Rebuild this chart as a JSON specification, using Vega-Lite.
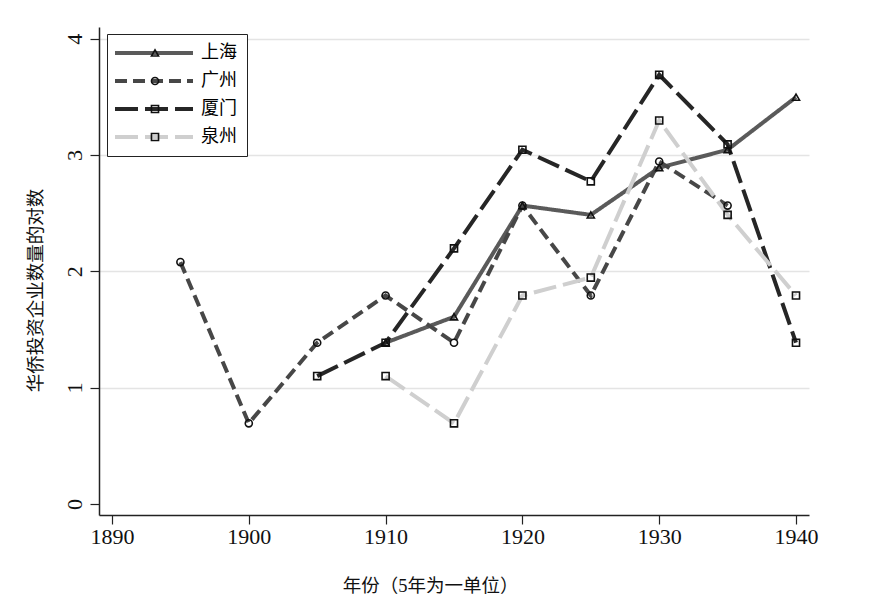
{
  "$schema": "https://vega.github.io/schema/vega-lite/v6.json",
  "width": 710,
  "height": 488,
  "autosize": {"type": "none"},
  "padding": {"left": 99, "top": 27, "right": 71, "bottom": 87},
  "background": "white",
  "config": {
    "view": {"stroke": null},
    "font": "Liberation Serif, Noto Sans CJK SC",
    "axis": {
      "labelFont": "Liberation Serif, Noto Sans CJK SC",
      "titleFont": "Liberation Serif, Noto Sans CJK SC",
      "titleFontWeight": "normal",
      "labelColor": "#111",
      "titleColor": "#111",
      "domainColor": "#222",
      "tickColor": "#222",
      "domainWidth": 1.5,
      "tickWidth": 1.2
    },
    "legend": {
      "labelFont": "Liberation Serif, Noto Sans CJK SC"
    }
  },
  "data": {
    "values": [
      {"year": 1910, "value": 1.386, "city": "上海"},
      {"year": 1915, "value": 1.609, "city": "上海"},
      {"year": 1920, "value": 2.565, "city": "上海"},
      {"year": 1925, "value": 2.485, "city": "上海"},
      {"year": 1930, "value": 2.890, "city": "上海"},
      {"year": 1935, "value": 3.045, "city": "上海"},
      {"year": 1940, "value": 3.497, "city": "上海"},
      {"year": 1895, "value": 2.079, "city": "广州"},
      {"year": 1900, "value": 0.693, "city": "广州"},
      {"year": 1905, "value": 1.386, "city": "广州"},
      {"year": 1910, "value": 1.792, "city": "广州"},
      {"year": 1915, "value": 1.386, "city": "广州"},
      {"year": 1920, "value": 2.565, "city": "广州"},
      {"year": 1925, "value": 1.792, "city": "广州"},
      {"year": 1930, "value": 2.944, "city": "广州"},
      {"year": 1935, "value": 2.565, "city": "广州"},
      {"year": 1905, "value": 1.099, "city": "厦门"},
      {"year": 1910, "value": 1.386, "city": "厦门"},
      {"year": 1915, "value": 2.197, "city": "厦门"},
      {"year": 1920, "value": 3.045, "city": "厦门"},
      {"year": 1925, "value": 2.773, "city": "厦门"},
      {"year": 1930, "value": 3.689, "city": "厦门"},
      {"year": 1935, "value": 3.091, "city": "厦门"},
      {"year": 1940, "value": 1.386, "city": "厦门"},
      {"year": 1910, "value": 1.099, "city": "泉州"},
      {"year": 1915, "value": 0.693, "city": "泉州"},
      {"year": 1920, "value": 1.792, "city": "泉州"},
      {"year": 1925, "value": 1.946, "city": "泉州"},
      {"year": 1930, "value": 3.296, "city": "泉州"},
      {"year": 1935, "value": 2.485, "city": "泉州"},
      {"year": 1940, "value": 1.792, "city": "泉州"}
    ]
  },
  "encoding": {
    "x": {
      "field": "year",
      "type": "quantitative",
      "scale": {"domain": [1889.05, 1940.95], "nice": false, "zero": false},
      "axis": {
        "values": [1890, 1900, 1910, 1920, 1930, 1940],
        "format": "d",
        "grid": false,
        "tickSize": 9,
        "labelFontSize": 22,
        "labelPadding": 2,
        "labelFlush": false,
        "title": "年份（5年为一单位）",
        "titleFontSize": 18.5,
        "titleX": 331,
        "titleY": 70,
        "titleAlign": "center",
        "titleBaseline": "middle"
      }
    },
    "y": {
      "field": "value",
      "type": "quantitative",
      "scale": {"domain": [-0.095, 4.1], "nice": false, "zero": false},
      "axis": {
        "values": [0, 1, 2, 3, 4],
        "grid": true,
        "gridColor": {"condition": {"test": "datum.value === 0", "value": "transparent"}, "value": "#e4e4e4"},
        "gridWidth": 1.5,
        "tickSize": 9,
        "labelAngle": -90,
        "labelAlign": "center",
        "labelBaseline": "bottom",
        "labelFontSize": 22,
        "labelPadding": 4,
        "labelFlush": false,
        "title": "华侨投资企业数量的对数",
        "titleFontSize": 18.5,
        "titleAngle": -90,
        "titleX": -64,
        "titleY": 263,
        "titleAlign": "center",
        "titleBaseline": "middle"
      }
    }
  },
  "layer": [
    {
      "mark": {"type": "line", "strokeWidth": 4},
      "encoding": {
        "color": {
          "field": "city",
          "type": "nominal",
          "scale": {"domain": ["上海", "广州", "厦门", "泉州"], "range": ["#5a5a5a", "#474747", "#262626", "#cfcfcf"]},
          "legend": {
            "orient": "none",
            "legendX": 8,
            "legendY": 7,
            "title": null,
            "symbolType": "M-39,0H39",
            "symbolSize": 4,
            "symbolOffset": 28,
            "symbolStrokeWidth": 4,
            "labelFontSize": 18,
            "labelOffset": 38,
            "padding": 10,
            "rowPadding": 10,
            "strokeColor": "#222",
            "fillColor": "white"
          }
        },
        "strokeDash": {
          "field": "city",
          "type": "nominal",
          "scale": {"domain": ["上海", "广州", "厦门", "泉州"], "range": [[1, 0], [12, 6], [23, 7], [23, 7]]},
          "legend": {
            "orient": "none",
            "legendX": 8,
            "legendY": 7,
            "title": null,
            "symbolType": "M-39,0H39",
            "symbolSize": 4,
            "symbolOffset": 28,
            "symbolStrokeWidth": 4,
            "labelFontSize": 18,
            "labelOffset": 38,
            "padding": 10,
            "rowPadding": 10,
            "strokeColor": "#222",
            "fillColor": "white"
          }
        }
      }
    },
    {
      "mark": {"type": "point", "filled": false, "stroke": "#111", "strokeWidth": 1.6, "size": 50, "opacity": 1},
      "encoding": {
        "shape": {
          "field": "city",
          "type": "nominal",
          "sort": ["上海", "广州", "厦门", "泉州"],
          "scale": {"range": ["triangle-up", "circle", "square", "square"]},
          "legend": {
            "orient": "none",
            "legendX": 8,
            "legendY": 7,
            "title": null,
            "symbolSize": 50,
            "symbolOffset": 29,
            "symbolStrokeColor": "#111",
            "symbolFillColor": "transparent",
            "symbolStrokeWidth": 1.6,
            "labelFontSize": 18,
            "labelExpr": "''",
            "padding": 10,
            "rowPadding": 10
          }
        }
      }
    }
  ]
}
